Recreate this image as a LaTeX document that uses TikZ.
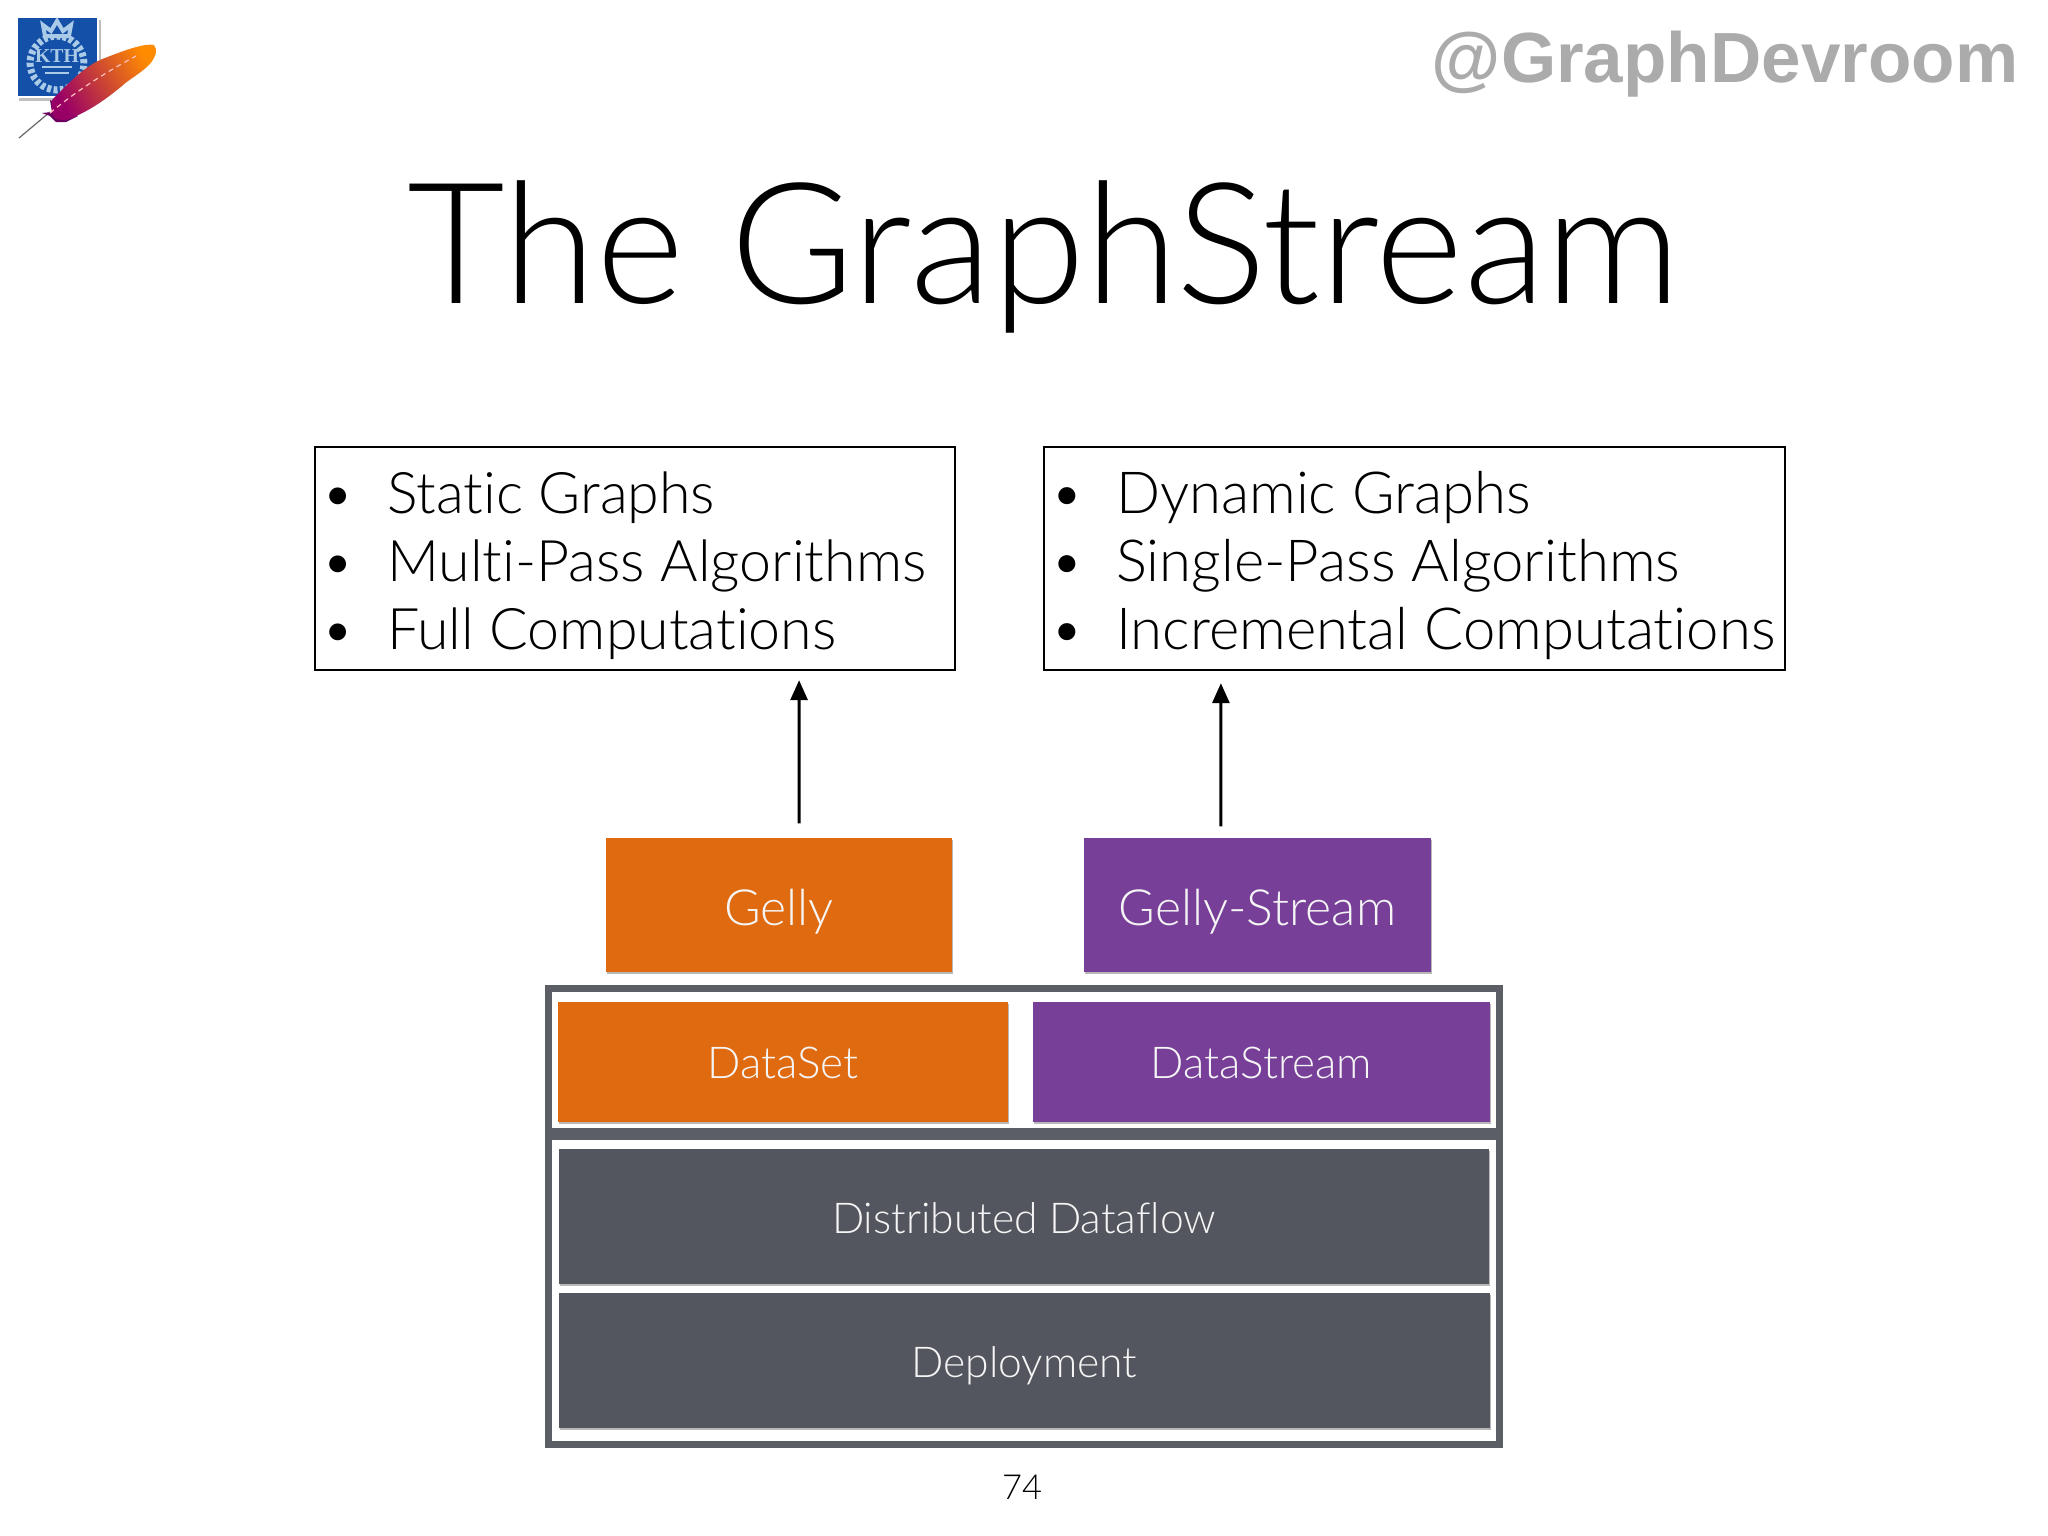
\documentclass[tikz,border=0pt]{standalone}
\usepackage{fontspec}
\setmainfont{Liberation Sans}
\newfontfamily\lightface[Ligatures=NoCommon]{Lato Light}
\newfontfamily\crestface{Liberation Serif}
\usetikzlibrary{arrows.meta,shadows}
\definecolor{flinkorange}{HTML}{DF6A10}
\definecolor{streampurple}{HTML}{773F98}
\definecolor{layergrey}{HTML}{53565E}
\definecolor{kthblue}{HTML}{1550A8}
\definecolor{kthlight}{HTML}{A9CBE8}
\newcommand{\listrow}[1]{\textbullet & #1}
\newcommand{\firstrow}[1]{\rule{0pt}{19pt}\textbullet & #1}
\tikzset{
  softshadow/.style={drop shadow={shadow xshift=0.01cm,shadow yshift=-0.02cm,opacity=0.28,fill=black}},
  layerbox/.style={rectangle,inner sep=0pt,text=white!96!black,softshadow},
  topbox/.style={layerbox,minimum width=3.46cm,minimum height=1.34cm,text height=11.5pt,text depth=0pt,font=\lightface\fontsize{14.2}{16}\selectfont},
  midbox/.style={layerbox,minimum height=1.20cm,text height=9.4pt,text depth=0pt,font=\lightface\fontsize{12.5}{14}\selectfont},
  basebox/.style={layerbox,fill=layergrey,minimum width=9.30cm,minimum height=1.35cm,text height=9.6pt,text depth=0pt,font=\lightface\fontsize{12.1}{15}\selectfont},
  framebox/.style={rectangle,draw=layergrey!95!white,line width=0.07cm,minimum width=9.50cm,inner sep=0pt,softshadow,fill=white},
  listbox/.style={rectangle,draw=black,line width=0.02cm,minimum height=2.23cm,inner sep=0pt,
    font=\lightface\fontsize{16.3}{19.35}\selectfont},
  flow/.style={draw=black,line width=0.03cm,-{Triangle[length=0.2cm,width=0.17cm]}}
}
\begin{document}
\begin{tikzpicture}[x=0.01cm,y=0.01cm]
    \useasboundingbox (0,0) rectangle (2048,-1536);
    % corner logos
    \fill [black,opacity=0.25] (19,-20) rectangle (101,-101);
    \fill [white] (16,-16) rectangle (99,-98);
    \fill [kthblue] (18,-18) rectangle (97,-96);
    \draw [kthlight,line width=0.07cm,dash pattern=on 0.04cm off 0.025cm] (57,-63) circle (27);
    \draw [kthlight,line width=0.04cm,fill=kthblue] (45,-36) -- (43,-25) -- (51,-31) -- (57,-21) -- (63,-31) -- (71,-25) -- (69,-36) -- cycle;
    \node (kthname) [text=kthlight,font=\crestface\fontsize{5.6}{6}\selectfont\bfseries,inner sep=0pt] at (57,-56) {KTH};
    \draw [kthlight,line width=0.015cm] (42,-67) -- (72,-67) (45,-73) -- (69,-73);
    \draw [black!60,line width=0.012cm] (19,-138) -- (50,-112);
    % feather
    \fill [purple!70!blue!80!black] (50,-100) -- (52,-112) -- (42,-113) -- (50,-116) -- (56,-122) -- (66,-122) -- (78,-116) -- cycle;
    \shade [left color=purple!80!blue,middle color=red!80!black,right color=orange!90!yellow,shading angle=120]
      (52,-113) -- (52,-100) .. controls (67,-85) and (85,-65) .. (105,-58)
      .. controls (125,-50) and (145,-43) .. (154,-45)
      .. controls (158,-50) and (156,-56) .. (150,-64)
      .. controls (140,-74) and (128,-80) .. (122,-86)
      .. controls (105,-100) and (90,-110) .. (76,-116)
      .. controls (68,-121) and (60,-121) .. (55,-118) -- cycle;
    \draw [red!25!white,line width=0.012cm,dash pattern=on 0.05cm off 0.04cm] (50,-113) .. controls (80,-88) and (110,-70) .. (136,-56);
    % watermark and title
    \node (handle) [text=black!33,font=\fontsize{20.2}{24}\selectfont\bfseries,inner sep=0pt] at (1725,-64) {@GraphDevroom};
    \node (title) [text=black,font=\lightface\fontsize{48}{54}\selectfont,inner sep=0pt] at (1044,-257) {The GraphStream};
    % feature lists
    \node (staticlist) [listbox,minimum width=6.40cm] at (635,-558.5) {\hspace*{0.045cm}\begin{tabular}{@{}p{0.66cm}@{}l@{}}
      \firstrow{Static Graphs}\\ \listrow{Multi-Pass Algorithms}\\ \listrow{Full Computations}\end{tabular}\hspace*{0.27cm}};
    \node (dynamiclist) [listbox,minimum width=7.41cm,font=\lightface\fontsize{16.5}{19.35}\selectfont] at (1414.5,-558.5) {\hspace*{0.024cm}\begin{tabular}{@{}p{0.66cm}@{}l@{}}
      \firstrow{Dynamic Graphs}\\ \listrow{Single-Pass Algorithms}\\ \listrow{Incremental Computations}\end{tabular}\hspace*{0.06cm}};
    % stack
    \node (batchframe) [framebox,minimum height=1.42cm] at (1024,-1060) {};
    \node (baseframe) [framebox,minimum height=3.07cm] at (1024,-1290.5) {};
    \node (gelly) [topbox,fill=flinkorange] at (779,-905) {Gelly};
    \node (gellystream) [topbox,fill=streampurple] at (1257.5,-905) {Gelly-Stream};
    \node (dataset) [midbox,fill=flinkorange,minimum width=4.50cm] at (783,-1062) {DataSet};
    \node (datastream) [midbox,fill=streampurple,minimum width=4.57cm] at (1261.5,-1062) {DataStream};
    \node (dataflow) [basebox] at (1024,-1216.5) {Distributed Dataflow};
    \node (deployment) [basebox] at (1024.5,-1360.5) {Deployment};
    \node (pagenum) [font=\lightface\fontsize{9.8}{12}\selectfont,text=black,inner sep=0pt] at (1022,-1487) {74};
    % arrows
    \draw [flow,shorten <=0.14cm,shorten >=0.09cm] ([xshift=0.20cm]gelly.north) -- ([xshift=1.64cm]staticlist.south);
    \draw [flow,shorten <=0.11cm,shorten >=0.12cm] ([xshift=-0.365cm]gellystream.north) -- ([xshift=-1.935cm]dynamiclist.south);
\end{tikzpicture}
\end{document}
